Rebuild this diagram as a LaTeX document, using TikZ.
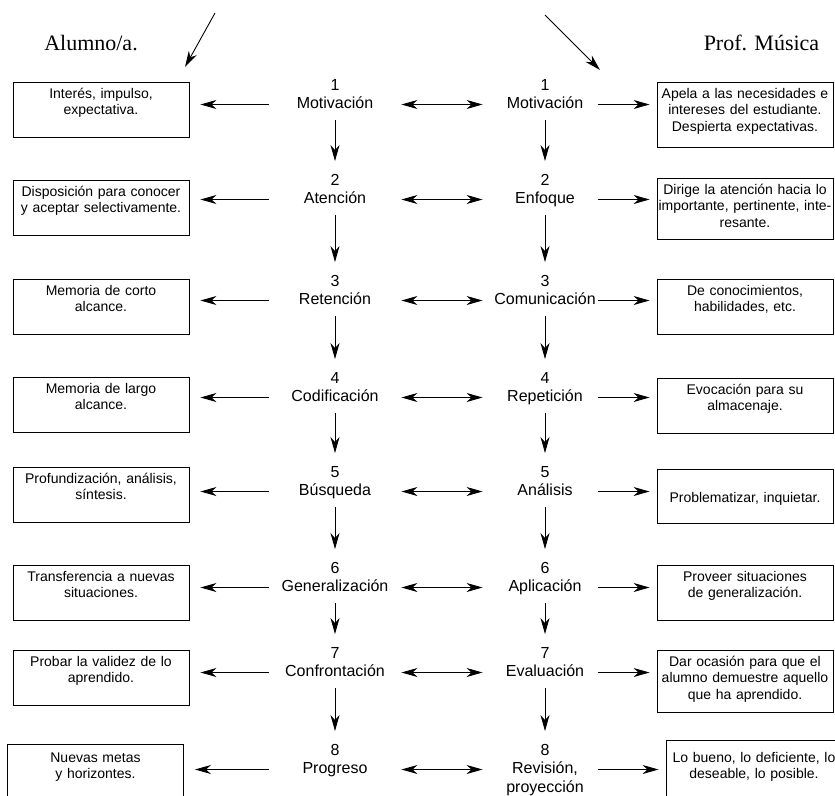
\documentclass[tikz,border=0pt]{standalone}
\usepackage{fontspec}
\setmainfont{Liberation Sans}
\newfontfamily\titlefont{Liberation Serif}
\usetikzlibrary{arrows.meta}
\hyphenpenalty=10000
\exhyphenpenalty=10000
\tikzstyle{block} = [rectangle, draw, text width=176pt, inner xsep=0pt, inner ysep=0pt,
    align=center, text height=16pt, text depth=39pt, anchor=north,
    font=\fontsize{14}{16.5}\selectfont]
\tikzstyle{fase} = [inner sep=0pt, text height=12pt, text depth=4pt, anchor=base,
    font=\fontsize{16}{18}\selectfont]
\tikzstyle{faseA} = [fase, minimum width=132pt]
\tikzstyle{faseP} = [fase, minimum width=124pt]
\tikzstyle{num} = [inner sep=0pt, text height=12pt, text depth=4pt, node distance=18pt,
    font=\fontsize{16}{18}\selectfont]
\tikzstyle{titulo} = [inner sep=0pt, anchor=base, font=\titlefont\fontsize{22}{26}\selectfont]
\tikzstyle{line} = [draw, ->]
\tikzstyle{dline} = [draw, <->]
\tikzstyle{izq} = [line, shorten >=11pt]
\tikzstyle{der} = [line, shorten <=-9pt, shorten >=7pt]
\tikzstyle{baja} = [line, shorten <=7pt, shorten >=12pt]

\begin{document}
\begin{tikzpicture}[x=1pt, y=-1pt, line width=0.9pt,
    >={Stealth[length=16pt, width=9pt, inset=5pt]}]
	\clip (0,0) rectangle (835,795);

	% titulos
	\node [titulo] (alumno) at (91,50) {Alumno/a.};
	\node [titulo] (profesor) at (761.5,50) {Prof. Música};
	\coordinate (fA) at (215,13);
	\coordinate (pA) at (185,67);
	\coordinate (fP) at (545,15);
	\coordinate (pP) at (600,70);
	\path [line] (fA) -- (pA);
	\path [line] (fP) -- (pP);

	% columna del alumno
	\node [faseA] (alu1) at (335,108.5) {Motivación};
	\node [faseA] (alu2) at (335,203.5) {Atención};
	\node [faseA] (alu3) at (335,304.5) {Retención};
	\node [faseA] (alu4) at (335,401.5) {Codificación};
	\node [faseA] (alu5) at (335,495.5) {Búsqueda};
	\node [faseA] (alu6) at (335,591.5) {Generalización};
	\node [faseA] (alu7) at (335,676.5) {Confrontación};
	\node [faseA] (alu8) at (335,773.5) {Progreso};
	\node [num, above of=alu1] (nalu1) {1};
	\node [num, above of=alu2] (nalu2) {2};
	\node [num, above of=alu3] (nalu3) {3};
	\node [num, above of=alu4] (nalu4) {4};
	\node [num, above of=alu5] (nalu5) {5};
	\node [num, above of=alu6] (nalu6) {6};
	\node [num, above of=alu7] (nalu7) {7};
	\node [num, above of=alu8] (nalu8) {8};

	% columna del profesor
	\node [faseP] (pro1) at (545,108.5) {Motivación};
	\node [faseP] (pro2) at (545,203.5) {Enfoque};
	\node [faseP] (pro3) at (545,304.5) {Comunicación};
	\node [faseP] (pro4) at (545,401.5) {Repetición};
	\node [faseP] (pro5) at (545,495.5) {Análisis};
	\node [faseP] (pro6) at (545,591.5) {Aplicación};
	\node [faseP] (pro7) at (545,676.5) {Evaluación};
	\node [faseP] (pro8) at (545,773.5) {Revisión,};
	\node [num, below of=pro8, node distance=19pt] (pro8b) {proyección};
	\node [num, above of=pro1] (npro1) {1};
	\node [num, above of=pro2] (npro2) {2};
	\node [num, above of=pro3] (npro3) {3};
	\node [num, above of=pro4] (npro4) {4};
	\node [num, above of=pro5] (npro5) {5};
	\node [num, above of=pro6] (npro6) {6};
	\node [num, above of=pro7] (npro7) {7};
	\node [num, above of=pro8] (npro8) {8};

	% descripciones
	\node [block] (dalu1) at (101,82) {Interés, impulso,\\expectativa.};
	\node [block] (dalu2) at (101,180) {Disposición para conocer\\y aceptar selectivamente.};
	\node [block] (dalu3) at (101,279) {Memoria de corto\\alcance.};
	\node [block] (dalu4) at (101,377) {Memoria de largo\\alcance.};
	\node [block] (dalu5) at (101,467) {Profundización, análisis,\\síntesis.};
	\node [block] (dalu6) at (101,565) {Transferencia a nuevas\\situaciones.};
	\node [block] (dalu7) at (101,650) {Probar la validez de lo\\aprendido.};
	\node [block, text height=18pt] (dalu8) at (95.5,744) {Nuevas metas\\y horizontes.};

	\node [block, text depth=49pt] (dpro1) at (745,82) {Apela a las necesidades e\\intereses del estudiante.\\Despierta expectativas.};
	\node [block, text depth=45pt] (dpro2) at (745,178) {Dirige la atención hacia lo\\importante, pertinente, inte-\\resante.};
	\node [block] (dpro3) at (745,279) {De conocimientos,\\habilidades, etc.};
	\node [block] (dpro4) at (745,378) {Evocación para su\\almacenaje.};
	\node [block, text height=33pt, text depth=21pt] (dpro5) at (745,469) {Problematizar, inquietar.};
	\node [block] (dpro6) at (745,565) {Proveer situaciones\\de generalización.};
	\node [block, text depth=46pt] (dpro7) at (745,650) {Dar ocasión para que el\\alumno demuestre aquello\\que ha aprendido.};
	\node [block, text height=22pt, text depth=45pt] (dpro8) at (754,740) {Lo bueno, lo deficiente, lo\\deseable, lo posible.};

	% flechas horizontales
	\path [izq] (alu1.west) -- (alu1.west -| dalu1.east);
	\path [izq] (alu2.west) -- (alu2.west -| dalu2.east);
	\path [izq] (alu3.west) -- (alu3.west -| dalu3.east);
	\path [izq] (alu4.west) -- (alu4.west -| dalu4.east);
	\path [izq] (alu5.west) -- (alu5.west -| dalu5.east);
	\path [izq] (alu6.west) -- (alu6.west -| dalu6.east);
	\path [izq] (alu7.west) -- (alu7.west -| dalu7.east);
	\path [izq] (alu8.west) -- (alu8.west -| dalu8.east);

	\path [dline] (alu1.east) -- (pro1.west);
	\path [dline] (alu2.east) -- (pro2.west);
	\path [dline] (alu3.east) -- (pro3.west);
	\path [dline] (alu4.east) -- (pro4.west);
	\path [dline] (alu5.east) -- (pro5.west);
	\path [dline] (alu6.east) -- (pro6.west);
	\path [dline] (alu7.east) -- (pro7.west);
	\path [dline] (alu8.east) -- (pro8.west);

	\path [der] (pro1.east) -- (pro1.east -| dpro1.west);
	\path [der] (pro2.east) -- (pro2.east -| dpro2.west);
	\path [der] (pro3.east) -- (pro3.east -| dpro3.west);
	\path [der] (pro4.east) -- (pro4.east -| dpro4.west);
	\path [der] (pro5.east) -- (pro5.east -| dpro5.west);
	\path [der] (pro6.east) -- (pro6.east -| dpro6.west);
	\path [der] (pro7.east) -- (pro7.east -| dpro7.west);
	\path [der] (pro8.east) -- (pro8.east -| dpro8.west);

	% flechas verticales
	\path [baja] (alu1) -- (nalu2);
	\path [baja] (alu2) -- (nalu3);
	\path [baja] (alu3) -- (nalu4);
	\path [baja] (alu4) -- (nalu5);
	\path [baja] (alu5) -- (nalu6);
	\path [baja] (alu6) -- (nalu7);
	\path [baja] (alu7) -- (nalu8);
	\path [baja] (pro1) -- (npro2);
	\path [baja] (pro2) -- (npro3);
	\path [baja] (pro3) -- (npro4);
	\path [baja] (pro4) -- (npro5);
	\path [baja] (pro5) -- (npro6);
	\path [baja] (pro6) -- (npro7);
	\path [baja] (pro7) -- (npro8);
\end{tikzpicture}
\end{document}
